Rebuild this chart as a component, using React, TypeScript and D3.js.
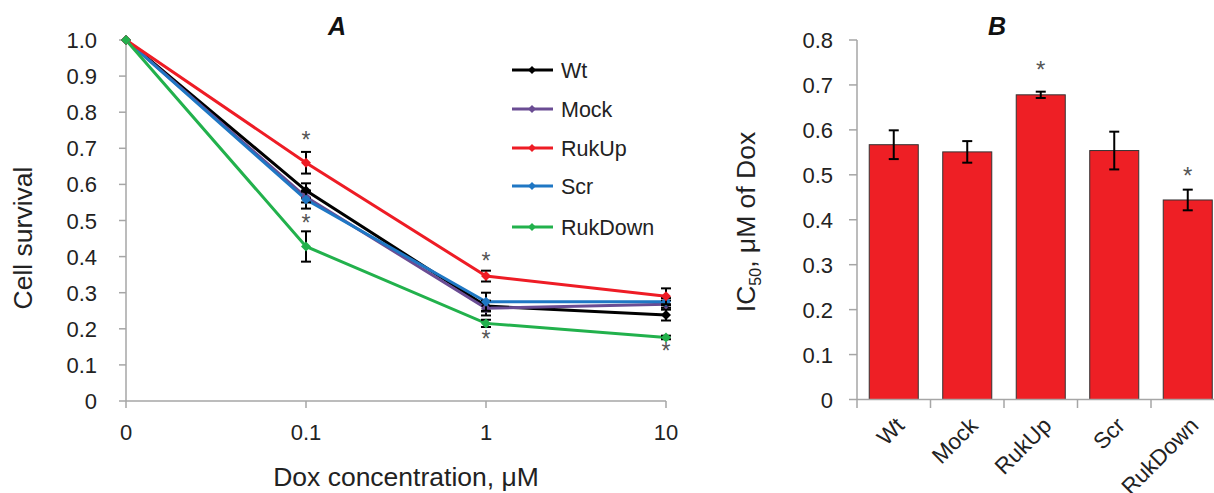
import React from "react";
import * as d3 from "d3";

const doses = ["0", "0.1", "1", "10"];
const seriesNames = ["Wt", "Mock", "RukUp", "Scr", "RukDown"];
const seriesColors = ["#000000", "#6a4c93", "#ee1c25", "#1f77c4", "#22b14c"];
const wtVals = [1.0, 0.583, 0.263, 0.238];
const mockVals = [1.0, 0.565, 0.257, 0.268];
const rukUpVals = [1.0, 0.66, 0.346, 0.29];
const scrVals = [1.0, 0.558, 0.275, 0.275];
const rukDownVals = [1.0, 0.428, 0.215, 0.176];
const wtErr = [0, 0.02, 0.015, 0.015];
const mockErr = [0, 0.015, 0.02, 0.01];
const rukUpErr = [0, 0.03, 0.015, 0.022];
const scrErr = [0, 0.025, 0.025, 0.01];
const rukDownErr = [0, 0.042, 0.01, 0.005];
const yTicksA = [0, 0.1, 0.2, 0.3, 0.4, 0.5, 0.6, 0.7, 0.8, 0.9, 1.0];
const yTickLabelsA = ["0", "0.1", "0.2", "0.3", "0.4", "0.5", "0.6", "0.7", "0.8", "0.9", "1.0"];
// asterisks in A: [dose index, value]
const starsA: [number, number][] = [[1, 0.725], [1, 0.495], [2, 0.39], [2, 0.175], [3, 0.14]];

const categoriesB = ["Wt", "Mock", "RukUp", "Scr", "RukDown"];
const ic50Vals = [0.567, 0.551, 0.678, 0.554, 0.444];
const ic50Err = [0.032, 0.024, 0.007, 0.042, 0.023];
const yTicksB = [0, 0.1, 0.2, 0.3, 0.4, 0.5, 0.6, 0.7, 0.8];
const yTickLabelsB = ["0", "0.1", "0.2", "0.3", "0.4", "0.5", "0.6", "0.7", "0.8"];
const starsB: [number, number][] = [[2, 0.735], [4, 0.5]];

const FONT = "Liberation Sans, Arial, sans-serif";
const AXIS = "#a6a6a6";
const TICK_FS = 22;
const TITLE_FS = 26.5;

export default function App() {
  const values = [wtVals, mockVals, rukUpVals, scrVals, rukDownVals];
  const errs = [wtErr, mockErr, rukUpErr, scrErr, rukDownErr];
  const xA = d3.scalePoint<string>().domain(doses).range([126, 666]);
  const yA = d3.scaleLinear().domain([0, 1]).range([401, 40]);
  const line = d3
    .line<number>()
    .x((_, i) => xA(doses[i]) as number)
    .y((d) => yA(d));
  const drawOrder = [0, 1, 3, 2, 4];

  const xB = d3.scaleBand<string>().domain(categoriesB).range([857, 1224.5]).padding(0);
  const yB = d3.scaleLinear().domain([0, 0.8]).range([399.5, 40]);
  const barW = xB.bandwidth() * 0.667;

  const diamond = (cx: number, cy: number, r: number) =>
    `M${cx},${cy - r}L${cx + r},${cy}L${cx},${cy + r}L${cx - r},${cy}Z`;

  const legendY = [70, 109, 148, 186, 227];

  return (
    <svg width={1214} height={493} style={{ position: "absolute", left: 0, top: 0 }} fontFamily={FONT}>
      <rect width={1214} height={493} fill="#fff" />
      {/* Chart A */}
      <text x={337} y={35} fontSize={25} fontWeight="bold" fontStyle="italic" textAnchor="middle" fill="#111">A</text>
      <line x1={126} x2={126} y1={40} y2={401} stroke={AXIS} strokeWidth={1.5} />
      <line x1={126} x2={666} y1={401} y2={401} stroke={AXIS} strokeWidth={1.5} />
      {yTicksA.map((t, i) => (
        <g key={"ya" + i}>
          <line x1={119} x2={126} y1={yA(t)} y2={yA(t)} stroke={AXIS} strokeWidth={1.5} />
          <text x={97} y={yA(t) + 8} fontSize={TICK_FS} textAnchor="end" fill="#222">{yTickLabelsA[i]}</text>
        </g>
      ))}
      {doses.map((d) => (
        <g key={"xa" + d}>
          <line x1={xA(d)} x2={xA(d)} y1={401} y2={408} stroke={AXIS} strokeWidth={1.5} />
          <text x={xA(d)} y={440} fontSize={TICK_FS} textAnchor="middle" fill="#222">{d}</text>
        </g>
      ))}
      <text x={406} y={486} fontSize={TITLE_FS} textAnchor="middle" fill="#222">Dox concentration, μM</text>
      <text transform="translate(32,238) rotate(-90)" fontSize={TITLE_FS} textAnchor="middle" fill="#222">Cell survival</text>
      {drawOrder.map((si) => (
        <path key={"l" + si} d={line(values[si]) || ""} fill="none" stroke={seriesColors[si]} strokeWidth={3} />
      ))}
      {drawOrder.map((si) =>
        values[si].map((v, i) => {
          const e = errs[si][i];
          const x = xA(doses[i]) as number;
          return (
            <g key={"e" + si + "-" + i}>
              {e > 0 && (
                <g stroke="#000" strokeWidth={2}>
                  <line x1={x} x2={x} y1={yA(v - e)} y2={yA(v + e)} />
                  <line x1={x - 5} x2={x + 5} y1={yA(v - e)} y2={yA(v - e)} />
                  <line x1={x - 5} x2={x + 5} y1={yA(v + e)} y2={yA(v + e)} />
                </g>
              )}
              <path d={diamond(x, yA(v), 5)} fill={seriesColors[si]} />
            </g>
          );
        })
      )}
      {starsA.map(([di, v], i) => (
        <text key={"sa" + i} x={xA(doses[di])} y={yA(v) + 9} fontSize={23} textAnchor="middle" fill="#555">*</text>
      ))}
      {seriesNames.map((n, i) => (
        <g key={"lg" + n}>
          <line x1={512} x2={553} y1={legendY[i]} y2={legendY[i]} stroke={seriesColors[i]} strokeWidth={3} />
          <path d={diamond(532, legendY[i], 4)} fill={seriesColors[i]} />
          <text x={561} y={legendY[i] + 8} fontSize={21.5} fill="#222">{n}</text>
        </g>
      ))}

      {/* Chart B */}
      <text x={997} y={35} fontSize={25} fontWeight="bold" fontStyle="italic" textAnchor="middle" fill="#111">B</text>
      {categoriesB.map((c, i) => {
        const cx = (xB(c) as number) + xB.bandwidth() / 2;
        const v = ic50Vals[i];
        const e = ic50Err[i];
        return (
          <g key={"b" + c}>
            <rect x={cx - barW / 2} y={yB(v)} width={barW} height={yB(0) - yB(v)} fill="#ee1f25" stroke="#333" strokeWidth={1} />
            <g stroke="#000" strokeWidth={2}>
              <line x1={cx} x2={cx} y1={yB(v - e)} y2={yB(v + e)} />
              <line x1={cx - 5} x2={cx + 5} y1={yB(v - e)} y2={yB(v - e)} />
              <line x1={cx - 5} x2={cx + 5} y1={yB(v + e)} y2={yB(v + e)} />
            </g>
            <text transform={`translate(${cx + 12},${427}) rotate(-45)`} fontSize={22.5} textAnchor="end" fill="#222">{c}</text>
          </g>
        );
      })}
      <line x1={857} x2={857} y1={40} y2={399.5} stroke={AXIS} strokeWidth={1.5} />
      <line x1={857} x2={1214} y1={399.5} y2={399.5} stroke={AXIS} strokeWidth={1.5} />
      {yTicksB.map((t, i) => (
        <g key={"yb" + i}>
          <line x1={849} x2={857} y1={yB(t)} y2={yB(t)} stroke={AXIS} strokeWidth={1.5} />
          <text x={833} y={yB(t) + 8} fontSize={TICK_FS} textAnchor="end" fill="#222">{yTickLabelsB[i]}</text>
        </g>
      ))}
      {categoriesB.map((c, i) => {
        const x = (xB(c) as number);
        return <line key={"xt" + i} x1={x} x2={x} y1={399.5} y2={408} stroke={AXIS} strokeWidth={1.5} />;
      })}
      {starsB.map(([ci, v], i) => (
        <text key={"sb" + i} x={(xB(categoriesB[ci]) as number) + xB.bandwidth() / 2} y={yB(v) + 9} fontSize={24} textAnchor="middle" fill="#555">*</text>
      ))}
      <text transform="translate(755,222) rotate(-90)" fontSize={TITLE_FS} textAnchor="middle" fill="#222">
        IC<tspan fontSize={16} dy={6}>50</tspan><tspan dy={-6}>, μM of Dox</tspan>
      </text>
    </svg>
  );
}
